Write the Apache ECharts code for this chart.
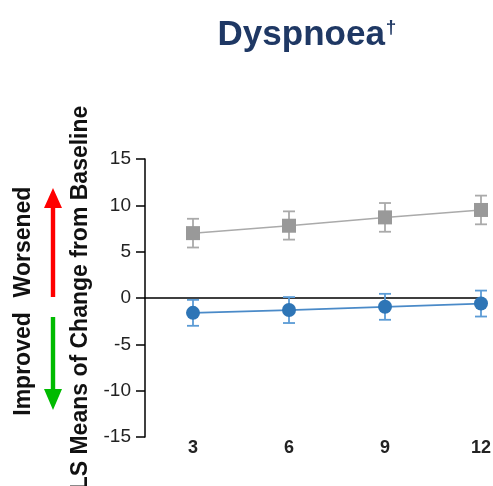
<!DOCTYPE html>
<html><head><meta charset="utf-8">
<script src="https://cdn.jsdelivr.net/npm/echarts@6/dist/echarts.min.js"></script>
<style>html,body{margin:0;padding:0;background:#fff}#c{width:493px;height:486px}</style>
</head><body><div id="c"></div>
<script>
const months = [3, 6, 9, 12];
const placeboMean = [7.0, 7.8, 8.7, 9.5];
const placeboLow = [5.45, 6.3, 7.15, 7.95];
const placeboHigh = [8.55, 9.35, 10.25, 11.05];
const activeMean = [-1.6, -1.3, -0.95, -0.6];
const activeLow = [-3.0, -2.7, -2.35, -2.0];
const activeHigh = [-0.2, 0.1, 0.45, 0.8];
const yTicks = {min: -15, max: 15, step: 5};

const font = '"Liberation Sans", Arial, sans-serif';
function pts(m){ return months.map((x,i)=>[x,m[i]]); }
function errData(lo,hi){ return months.map((x,i)=>[x,lo[i],hi[i]]); }
function errSeries(lo,hi,color){
  return {
    type:'custom', xAxisIndex:0, yAxisIndex:0, z:2, silent:true,
    data: errData(lo,hi),
    renderItem:function(params, api){
      const x=api.value(0), a=api.coord([x,api.value(1)]), b=api.coord([x,api.value(2)]);
      const w=6;
      const st={stroke:color,lineWidth:1.8};
      return {type:'group',children:[
        {type:'line',shape:{x1:a[0],y1:a[1],x2:b[0],y2:b[1]},style:st},
        {type:'line',shape:{x1:a[0]-w,y1:a[1],x2:a[0]+w,y2:a[1]},style:st},
        {type:'line',shape:{x1:b[0]-w,y1:b[1],x2:b[0]+w,y2:b[1]},style:st}
      ]};
    }
  };
}
const chart = echarts.init(document.getElementById('c'));
chart.setOption({
  animation:false,
  title:{
    text:'{t|Dyspnoea}{d|†}', left:302, top:13, textAlign:'center',
    textStyle:{rich:{
      t:{fontSize:35,fontWeight:'bold',color:'#1f3864',fontFamily:font},
      d:{fontSize:19,fontWeight:'bold',color:'#1f3864',fontFamily:font,verticalAlign:'top',padding:[0,0,16,1]}
    }}
  },
  grid:{left:145,right:12,top:159,bottom:49,containLabel:false,outerBoundsMode:'none'},
  xAxis:[{
    type:'value', min:1.5, max:12, interval:1.5,
    axisLine:{show:true,onZero:true,lineStyle:{color:'#000',width:1.5}},
    axisTick:{show:false}, axisLabel:{show:false}, splitLine:{show:false}
  },{
    type:'value', min:1.5, max:12, interval:1.5, position:'bottom',
    axisLine:{show:false,onZero:false}, axisTick:{show:false}, splitLine:{show:false},
    axisLabel:{margin:2,fontSize:18,fontWeight:'bold',color:'#222',fontFamily:font,
      formatter:v=>(months.indexOf(v)>=0?String(v):'')}
  }],
  yAxis:{
    type:'value', min:yTicks.min, max:yTicks.max, interval:yTicks.step,
    name:'LS Means of Change from Baseline', nameLocation:'middle', nameGap:50,
    nameTextStyle:{fontSize:23,fontWeight:'bold',color:'#111',fontFamily:font},
    axisLine:{show:true,lineStyle:{color:'#000',width:1.5}},
    axisTick:{show:true,length:9,lineStyle:{color:'#000',width:1.5}},
    axisLabel:{margin:14,fontSize:19,color:'#222',fontFamily:font},
    splitLine:{show:false}
  },
  graphic:[
    {type:'text',x:24,y:242,rotation:Math.PI/2,style:{text:'Worsened',fontSize:23,fontWeight:'bold',fill:'#111',fontFamily:font,align:'center',verticalAlign:'middle'}},
    {type:'text',x:24,y:364,rotation:Math.PI/2,style:{text:'Improved',fontSize:23,fontWeight:'bold',fill:'#111',fontFamily:font,align:'center',verticalAlign:'middle'}},
    {type:'polygon',shape:{points:[[50.8,297],[50.8,208],[44,208],[53,188],[62,208],[55.2,208],[55.2,297]]},style:{fill:'#ff0000'}},
    {type:'polygon',shape:{points:[[50.8,317],[50.8,389],[44,389],[53,410],[62,389],[55.2,389],[55.2,317]]},style:{fill:'#00bb00'}}
  ],
  series:[
    errSeries(placeboLow,placeboHigh,'#aaaaaa'),
    errSeries(activeLow,activeHigh,'#5b9bd5'),
    {type:'line',xAxisIndex:0,data:pts(placeboMean),symbol:'rect',symbolSize:14,z:3,
      itemStyle:{color:'#999999'},lineStyle:{color:'#aaaaaa',width:1.5}},
    {type:'line',xAxisIndex:0,data:pts(activeMean),symbol:'circle',symbolSize:14,z:3,
      itemStyle:{color:'#2e75b6'},lineStyle:{color:'#4a8ac8',width:1.8}}
  ]
});
</script></body></html>
